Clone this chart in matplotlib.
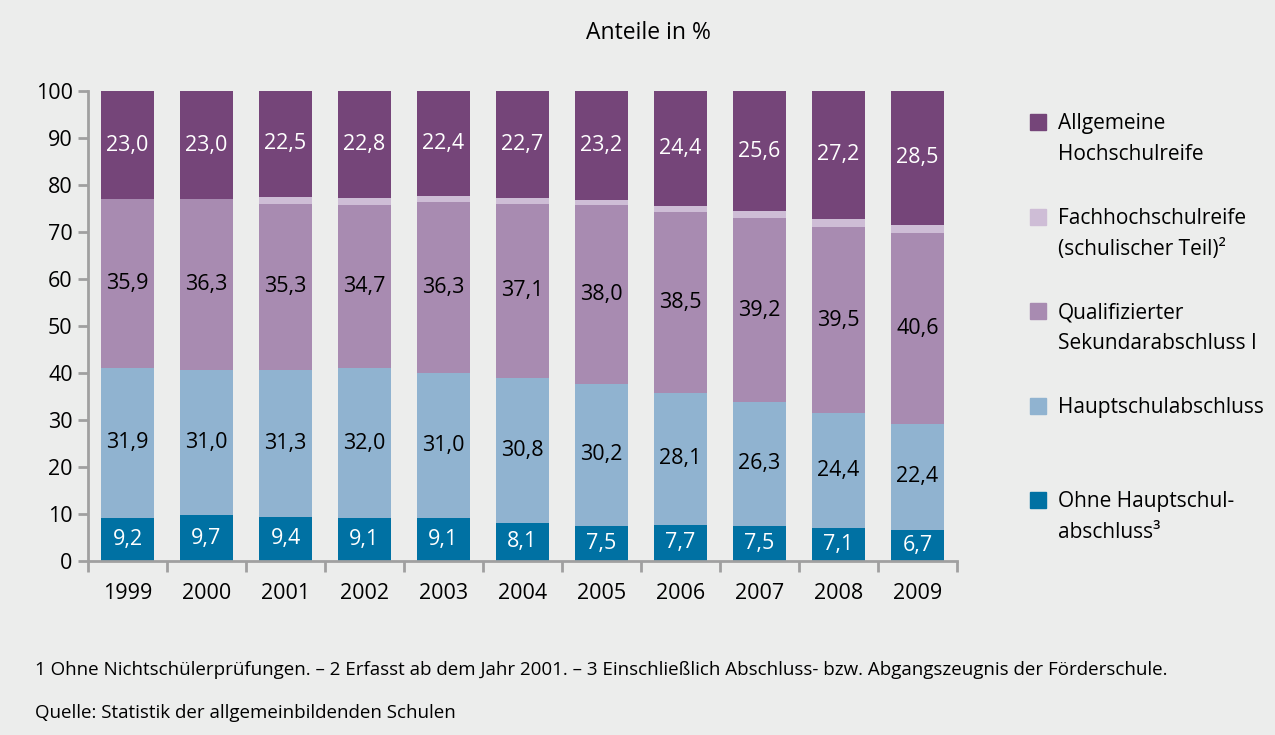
import numpy as np
import matplotlib.pyplot as plt

plt.rcParams['font.family'] = ['Open Sans', 'DejaVu Sans']

years = ['1999', '2000', '2001', '2002', '2003', '2004', '2005', '2006', '2007', '2008', '2009']
ohne = [9.2, 9.7, 9.4, 9.1, 9.1, 8.1, 7.5, 7.7, 7.5, 7.1, 6.7]
haupt = [31.9, 31.0, 31.3, 32.0, 31.0, 30.8, 30.2, 28.1, 26.3, 24.4, 22.4]
quali = [35.9, 36.3, 35.3, 34.7, 36.3, 37.1, 38.0, 38.5, 39.2, 39.5, 40.6]
fach = [0.0, 0.0, 1.5, 1.4, 1.2, 1.3, 1.1, 1.3, 1.4, 1.8, 1.8]
allg = [23.0, 23.0, 22.5, 22.8, 22.4, 22.7, 23.2, 24.4, 25.6, 27.2, 28.5]

series = [
    (ohne, '#0071a3', 'Ohne Hauptschul-\nabschluss³', 'white'),
    (haupt, '#90b3d0', 'Hauptschulabschluss', 'black'),
    (quali, '#a88bb1', 'Qualifizierter\nSekundarabschluss I', 'black'),
    (fach, '#cebdd6', 'Fachhochschulreife\n(schulischer Teil)²', None),
    (allg, '#754579', 'Allgemeine\nHochschulreife', 'white'),
]

bg = '#ecedec'
fs = 15.5
fig = plt.figure(figsize=(12.75, 7.35), dpi=100, facecolor=bg)
ax = fig.add_axes([88 / 1275, 1 - 561 / 735, (957 - 88) / 1275, (561 - 91) / 735])
ax.set_facecolor(bg)

x = np.arange(len(years))
bottom = np.zeros(len(years))
for vals, col, name, tcol in series:
    vals = np.array(vals)
    ax.bar(x, vals, 0.67, bottom=bottom, color=col, linewidth=0)
    if tcol:
        for xi, b, v in zip(x, bottom, vals):
            ax.text(xi, b + v / 2, f'{v:.1f}'.replace('.', ','), ha='center', va='center',
                    color=tcol, fontsize=fs)
    bottom += vals

ax.set_xlim(-0.5, len(years) - 0.5)
ax.set_ylim(0, 100)
ax.set_yticks(range(0, 101, 10))
ax.set_xticks(x)
ax.set_xticklabels(years)
ax.set_xticks(np.arange(-0.5, len(years)), minor=True)
ax.tick_params(axis='x', which='major', length=0, pad=16, labelsize=fs)
ax.tick_params(axis='x', which='minor', length=8, width=2, color='#a0a0a0')
ax.tick_params(axis='y', length=7, width=2, color='#a0a0a0', labelsize=fs, pad=4)
for s in ['top', 'right']:
    ax.spines[s].set_visible(False)
for s in ['left', 'bottom']:
    ax.spines[s].set_color('#a0a0a0')
    ax.spines[s].set_linewidth(2)

fig.text(648 / 1275, 1 - 33 / 735, 'Anteile in %', ha='center', va='center', fontsize=16.5)

# legend drawn by hand, top to bottom
leg_y = [122, 217, 311, 406, 500]
for (vals, col, name, tcol), yy in zip(series[::-1], leg_y):
    fig.patches.append(plt.Rectangle((1030 / 1275, 1 - (yy + 8) / 735), 16 / 1275, 16 / 735,
                                     transform=fig.transFigure, color=col, figure=fig))
    fig.text(1058 / 1275, 1 - (yy - 9) / 735, name, ha='left', va='top', fontsize=15,
             linespacing=1.6)

fig.text(35 / 1275, 1 - 670 / 735,
         '1 Ohne Nichtschülerprüfungen. – 2 Erfasst ab dem Jahr 2001. – 3 Einschließlich Abschluss- bzw. Abgangszeugnis der Förderschule.',
         ha='left', va='center', fontsize=13.5)
fig.text(35 / 1275, 1 - 713 / 735, 'Quelle: Statistik der allgemeinbildenden Schulen',
         ha='left', va='center', fontsize=13.5)

fig.savefig('out.png', dpi=100, facecolor=bg)
